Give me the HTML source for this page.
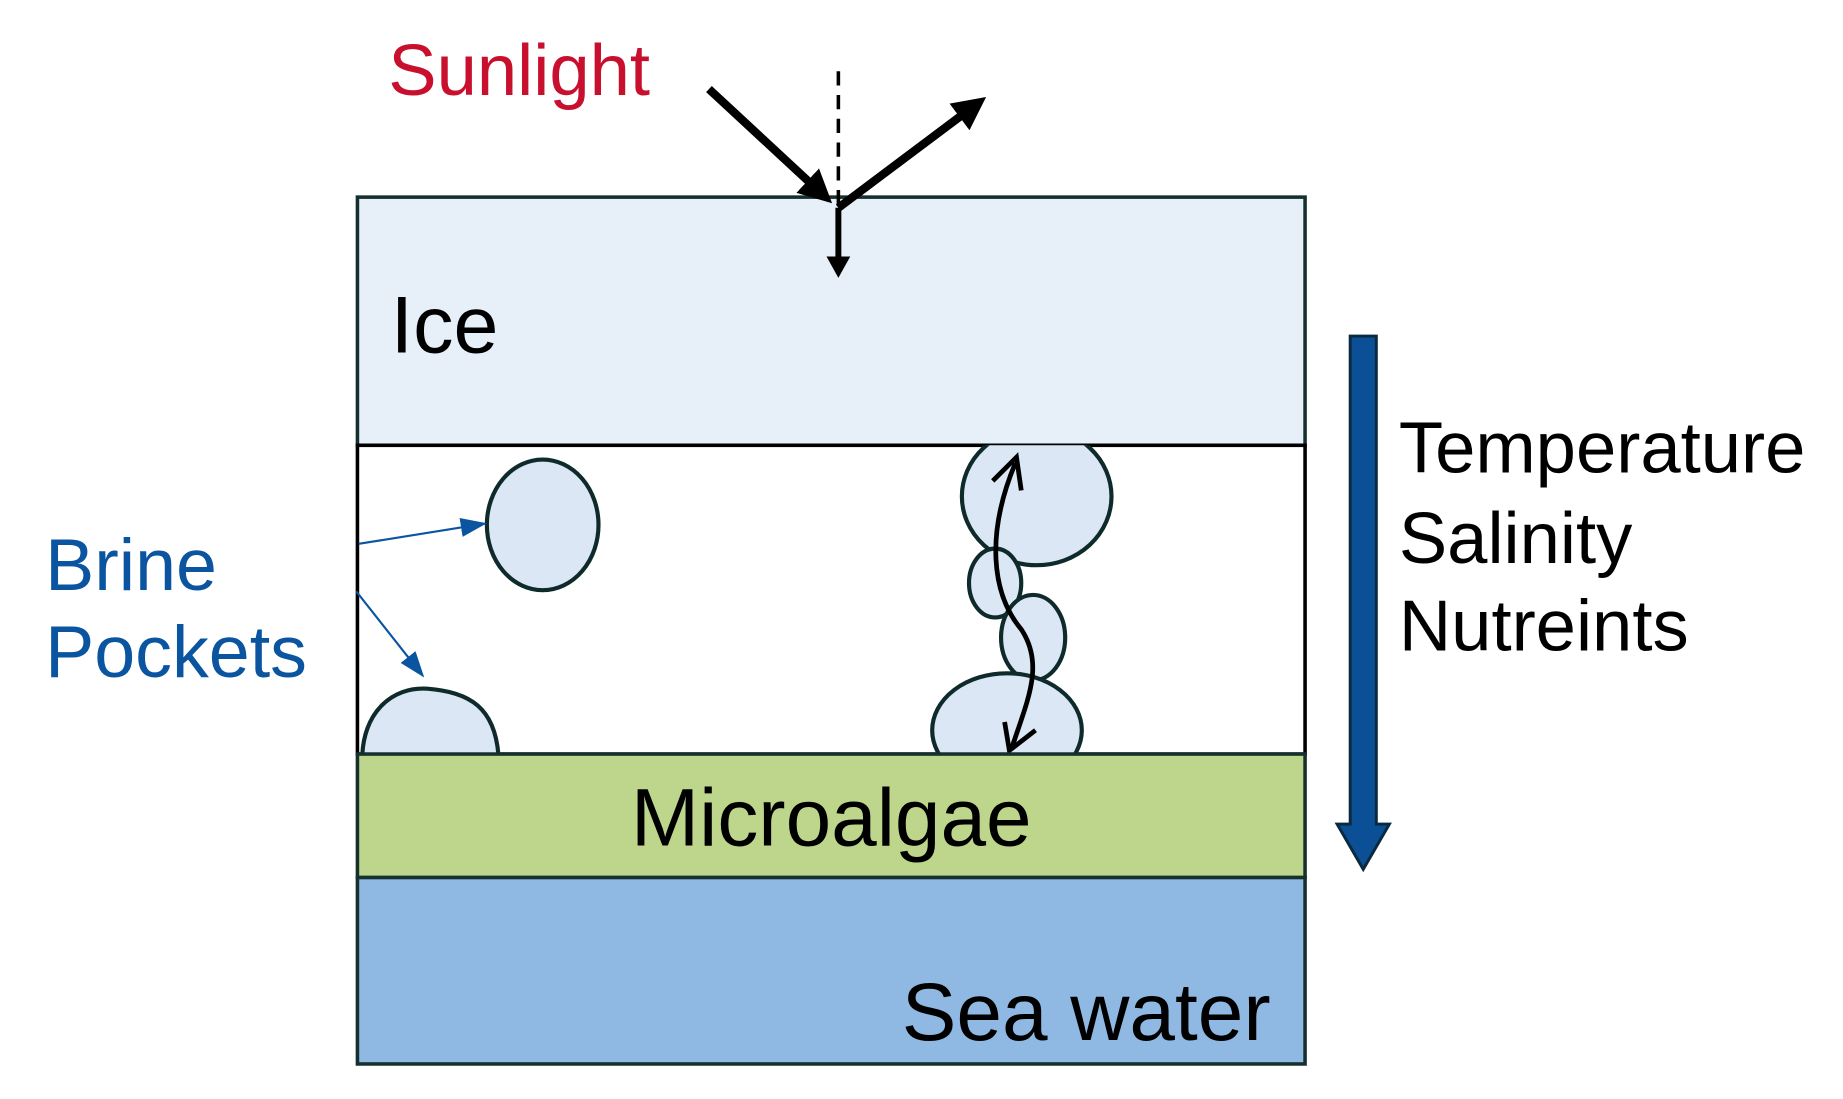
<!DOCTYPE html>
<html><head><style>html,body{margin:0;padding:0;background:#fff}svg{display:block}</style></head><body>
<svg width="1843" height="1099" viewBox="0 0 1552 925.5" preserveAspectRatio="none" xmlns="http://www.w3.org/2000/svg" font-family="Liberation Sans, sans-serif">
<defs>
<marker id="ah" markerWidth="4" markerHeight="4" refX="2.5" refY="2" orient="auto" markerUnits="strokeWidth"><path d="M0,0 L4,2 L0,4 z" fill="#000"/></marker>
<marker id="ah2" markerWidth="18" markerHeight="20" refX="12" refY="10" orient="auto" markerUnits="userSpaceOnUse"><path d="M0,0 L18,10 L0,20 z" fill="#000"/></marker>
<marker id="bh2" markerWidth="22" markerHeight="16" refX="20" refY="8" orient="auto" markerUnits="userSpaceOnUse"><path d="M0,0 L22,8 L0,16 z" fill="#0b55a0"/></marker>
<clipPath id="mid"><rect x="301" y="375" width="798" height="260"/></clipPath>
</defs>
<text x="327" y="80" font-size="61" fill="#c8102e">Sunlight</text>
<rect x="301" y="166" width="798" height="209" fill="#e7eff9" stroke="#16302e" stroke-width="3"/>
<rect x="301" y="375" width="798" height="260" fill="#fff" stroke="#000" stroke-width="3"/>
<g clip-path="url(#mid)" fill="#dbe7f5" stroke="#0f2a2a" stroke-width="3.5">
<ellipse cx="873" cy="418" rx="63" ry="58"/>
<ellipse cx="838" cy="491" rx="22" ry="29"/>
<ellipse cx="870" cy="537" rx="27" ry="36"/>
<ellipse cx="848" cy="615" rx="63" ry="48"/>
<path d="M305,640 C305,600 330,578 360,580 C395,583 418,595 420,640 Z"/>
</g>
<ellipse cx="457" cy="442" rx="47" ry="55" fill="#dbe7f5" stroke="#0f2a2a" stroke-width="3.5"/>
<path d="M855,390 C830,450 835,500 860,530 C880,560 865,590 852,630" fill="none" stroke="#000" stroke-width="4"/>
<path d="M836,405 L856,385 L860,413" fill="none" stroke="#000" stroke-width="4"/>
<path d="M846,608 L850,632 L872,615" fill="none" stroke="#000" stroke-width="4"/>
<line x1="302" y1="458" x2="408" y2="441" stroke="#0b55a0" stroke-width="1.8" marker-end="url(#bh2)"/>
<line x1="300" y1="498" x2="356" y2="569" stroke="#0b55a0" stroke-width="1.8" marker-end="url(#bh2)"/>
<rect x="301" y="635" width="798" height="104" fill="#bdd68c" stroke="#16302e" stroke-width="3"/>
<rect x="301" y="739" width="798" height="157" fill="#8fb8e3" stroke="#16302e" stroke-width="3"/>
<text x="329" y="297" font-size="68">Ice</text>
<text x="700" y="712" font-size="69" text-anchor="middle">Microalgae</text>
<text x="1070" y="876" font-size="69" text-anchor="end">Sea water</text>
<line x1="706" y1="60" x2="706" y2="175" stroke="#000" stroke-width="3" stroke-dasharray="12,8"/>
<line x1="597" y1="75" x2="693" y2="164" stroke="#000" stroke-width="7" marker-end="url(#ah)"/>
<line x1="706" y1="175" x2="822" y2="88" stroke="#000" stroke-width="7" marker-end="url(#ah)"/>
<line x1="706" y1="175" x2="706" y2="228" stroke="#000" stroke-width="5" marker-end="url(#ah2)"/>
<path d="M1137,283 L1159,283 L1159,694 L1170,694 L1148,732 L1126,694 L1137,694 Z" fill="#0b4f96" stroke="#0a2a40" stroke-width="2.5"/>
<text x="1178" y="398" font-size="61">Temperature</text>
<text x="1178" y="474" font-size="61">Salinity</text>
<text x="1178" y="548" font-size="61">Nutreints</text>
<text x="38" y="497" font-size="62" fill="#0b55a0">Brine</text>
<text x="38" y="570" font-size="62" fill="#0b55a0">Pockets</text>
</svg>
</body></html>
